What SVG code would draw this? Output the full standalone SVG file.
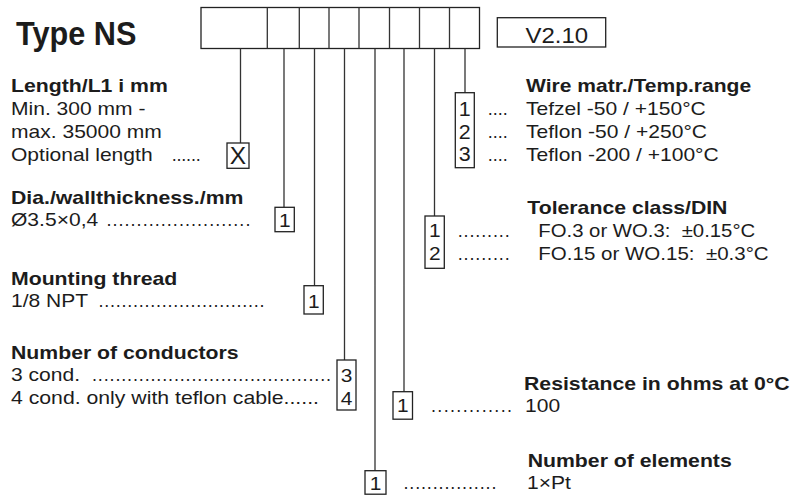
<svg xmlns="http://www.w3.org/2000/svg" width="792" height="499" viewBox="0 0 792 499">
<style>
.t{font-family:"Liberation Sans",Arial,sans-serif;font-size:18px;fill:#1c1c1c;white-space:pre}
.b{font-weight:bold}
.d{font-family:"Liberation Sans",Arial,sans-serif;font-size:18px;fill:#1c1c1c}
.c{text-anchor:middle}
.bx{fill:none;stroke:#222;stroke-width:1.3}
.ln{fill:none;stroke:#333;stroke-width:1.3}
</style>
<rect width="792" height="499" fill="#fff"/>
<g id="title">
<text class="t b" transform="translate(16,45) scale(0.93,1)" style="font-size:33px">Type NS</text>
</g>
<g id="code-box">
<rect class="bx" x="201" y="7.5" width="278.5" height="41"/>
<path class="ln" d="M267.3 7.5V48.5M299.3 7.5V48.5M329 7.5V48.5M359 7.5V48.5M389.5 7.5V48.5M419.5 7.5V48.5M449.5 7.5V48.5"/>
</g>
<g id="version">
<rect class="bx" x="497.3" y="17.7" width="108.4" height="29.3"/>
<text class="t" transform="translate(525.5,42.5) scale(1.09,1)" style="font-size:22px">V2.10</text>
</g>
<g id="connectors">
<path class="ln" d="M240.5 48.5V143M284 48.5V207M314.5 48.5V285.7M344.5 48.5V360M375 48.5V470.7M404 48.5V391.7M434.5 48.5V216M465 48.5V92.7"/>
</g>
<g id="length">
<text class="t b" transform="translate(11,92) scale(1.18,1)">Length/L1 i mm</text>
<text class="t" transform="translate(11,115) scale(1.17,1)">Min. 300 mm -</text>
<text class="t" transform="translate(11,138) scale(1.17,1)">max. 35000 mm</text>
<text class="t" transform="translate(11,161) scale(1.17,1)">Optional length</text>
<text class="d" x="171.7" y="161" textLength="29" lengthAdjust="spacing">......</text>
<rect class="bx" x="227" y="143" width="22" height="25.3"/>
<text class="t c" transform="translate(238,163.5) scale(1.02,1)" style="font-size:24px">X</text>
</g>
<g id="dia">
<text class="t b" transform="translate(11,203.5) scale(1.18,1)">Dia./wallthickness./mm</text>
<text class="t" transform="translate(11,226) scale(1.17,1)">Ø3.5×0,4</text>
<text class="d" x="106.4" y="226" textLength="144" lengthAdjust="spacing">........................</text>
<rect class="bx" x="275" y="207.3" width="19.3" height="24.4"/>
<text class="t c" transform="translate(284.7,226.5) scale(1.1,1)" style="font-size:19px">1</text>
</g>
<g id="thread">
<text class="t b" transform="translate(11,284.5) scale(1.18,1)">Mounting thread</text>
<text class="t" transform="translate(11,307) scale(1.17,1)">1/8 NPT</text>
<text class="d" x="98.4" y="307" textLength="166" lengthAdjust="spacing">.............................</text>
<rect class="bx" x="304" y="285.7" width="19.3" height="28.3"/>
<text class="t c" transform="translate(313.7,307.5) scale(1.1,1)" style="font-size:19px">1</text>
</g>
<g id="conductors">
<text class="t b" transform="translate(11,358.5) scale(1.18,1)">Number of conductors</text>
<text class="t" transform="translate(11,381) scale(1.17,1)">3 cond.</text>
<text class="d" x="92" y="381" textLength="239" lengthAdjust="spacing">.........................................</text>
<text class="t" transform="translate(11,404) scale(1.18,1)">4 cond. only with teflon cable......</text>
<rect class="bx" x="337" y="360" width="19" height="50"/>
<text class="t c" transform="translate(346.5,381.5) scale(1.1,1)" style="font-size:19px">3</text>
<text class="t c" transform="translate(346.5,404.5) scale(1.1,1)" style="font-size:19px">4</text>
</g>
<g id="wire">
<text class="t b" transform="translate(526,92) scale(1.17,1)">Wire matr./Temp.range</text>
<rect class="bx" x="455.3" y="92.7" width="19" height="75"/>
<text class="t c" transform="translate(464.8,115.5) scale(1.1,1)" style="font-size:19.5px">1</text>
<text class="t c" transform="translate(464.8,138.5) scale(1.1,1)" style="font-size:19.5px">2</text>
<text class="t c" transform="translate(464.8,161) scale(1.1,1)" style="font-size:19.5px">3</text>
<text class="d" x="487.7" y="115" textLength="20" lengthAdjust="spacing">....</text>
<text class="d" x="487.7" y="138" textLength="20" lengthAdjust="spacing">....</text>
<text class="d" x="487.7" y="160.5" textLength="20" lengthAdjust="spacing">....</text>
<text class="t" transform="translate(526,115) scale(1.17,1)">Tefzel -50 / +150°C</text>
<text class="t" transform="translate(526,138) scale(1.17,1)">Teflon -50 / +250°C</text>
<text class="t" transform="translate(526,160.5) scale(1.17,1)">Teflon -200 / +100°C</text>
</g>
<g id="tolerance">
<text class="t b" transform="translate(527.3,214) scale(1.18,1)">Tolerance class/DIN</text>
<rect class="bx" x="425" y="216" width="19.3" height="52.3"/>
<text class="t c" transform="translate(434.7,237) scale(1.1,1)" style="font-size:19px">1</text>
<text class="t c" transform="translate(434.7,260) scale(1.1,1)" style="font-size:19px">2</text>
<text class="d" x="457.7" y="236.5" textLength="52" lengthAdjust="spacing">.........</text>
<text class="d" x="457.7" y="259.5" textLength="52" lengthAdjust="spacing">.........</text>
<text class="t" transform="translate(538.3,236.5) scale(1.13,1)">FO.3 or WO.3:  ±0.15°C</text>
<text class="t" transform="translate(538.3,259.5) scale(1.14,1)">FO.15 or WO.15:  ±0.3°C</text>
</g>
<g id="resistance">
<text class="t b" transform="translate(524,390) scale(1.18,1)">Resistance in ohms at 0°C</text>
<rect class="bx" x="393" y="391.7" width="19.5" height="27.5"/>
<text class="t c" transform="translate(402.7,412) scale(1.1,1)" style="font-size:19px">1</text>
<text class="d" x="431" y="412" textLength="81" lengthAdjust="spacing">.............</text>
<text class="t" transform="translate(525,412) scale(1.17,1)">100</text>
</g>
<g id="elements">
<text class="t b" transform="translate(527.7,466.5) scale(1.18,1)">Number of elements</text>
<rect class="bx" x="365" y="470.7" width="21" height="23.5"/>
<text class="t c" transform="translate(375.5,489.5) scale(1.1,1)" style="font-size:19px">1</text>
<text class="d" x="403.4" y="489" textLength="93" lengthAdjust="spacing">................</text>
<text class="t" transform="translate(527,489) scale(1.17,1)">1×Pt</text>
</g>
</svg>
